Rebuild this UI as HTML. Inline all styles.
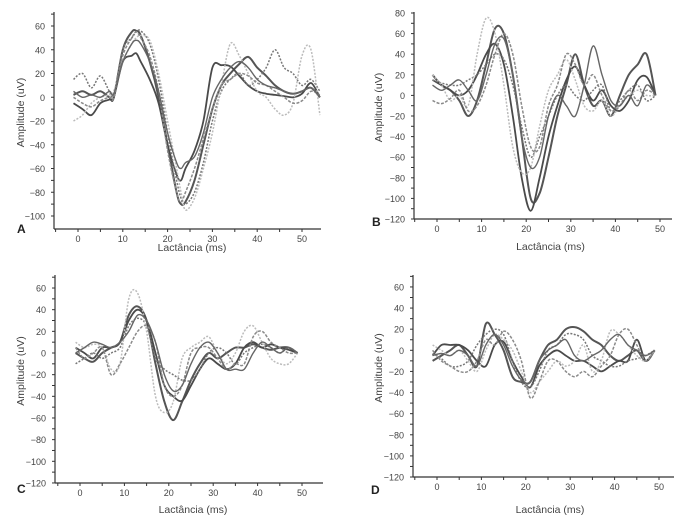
<!DOCTYPE html>
<html><head><meta charset="utf-8"><style>
html,body{margin:0;padding:0;background:#fff;}
svg{display:block;font-family:"Liberation Sans",sans-serif;}
</style></head><body>
<svg id="fig" width="700" height="519" viewBox="0 0 700 519"></svg>
<script>
// ---- data ----
const tA = [-1,1,3,5,7,8,10,12,13,14,16,18,20,22,23,24,26,28,30,32,34,36,38,40,42,44,46,48,50,52,54];
const tBCD = [-1,1,3,5,7,9,11,13,15,17,19,21,23,25,27,29,31,33,35,37,39,41,43,45,47,49];
const seriesA = [
 [2,5,2,5,0,0,40,55,56,52,30,0,-40,-80,-90,-88,-70,-40,-10,10,20,28,34,25,18,10,5,3,5,8,0],
 [-5,-10,-15,-5,-2,0,30,35,37,30,15,-5,-40,-65,-70,-60,-45,-20,25,27,26,18,10,5,3,2,1,0,3,12,0],
 [15,20,8,18,5,2,40,50,55,56,45,15,-30,-70,-85,-90,-80,-55,-20,5,15,20,10,15,25,40,25,20,10,15,5],
 [-20,-15,-5,0,2,5,30,45,50,52,48,20,-20,-60,-80,-95,-85,-60,-30,10,45,35,20,5,0,-10,-15,-5,35,40,-15],
 [0,-5,-8,-3,0,0,35,50,55,50,35,5,-45,-80,-88,-80,-60,-35,-10,10,15,20,18,12,10,5,0,-5,-3,5,2],
 [5,0,2,0,5,3,30,45,48,45,30,5,-30,-55,-60,-55,-50,-30,0,15,25,30,25,15,10,8,5,3,5,8,0]
];
const seriesB = [
 [20,10,5,-5,-20,-5,30,65,60,20,-40,-100,-95,-60,-20,10,40,10,-10,-5,-20,0,20,30,40,0],
 [15,10,5,0,5,20,40,50,30,-20,-80,-112,-80,-40,-10,15,28,10,-5,5,-10,-15,-5,15,18,0],
 [15,12,10,10,15,20,30,40,35,10,-30,-60,-40,-20,0,10,0,-5,5,10,-15,-5,5,10,-5,0],
 [20,10,-5,0,-10,40,75,60,10,-50,-75,-70,-30,5,20,35,15,-10,-15,-5,-20,-10,0,5,0,0],
 [-5,-8,-3,5,-15,-10,10,40,60,40,-10,-50,-50,-10,10,40,30,10,20,0,-15,-10,5,-5,5,0],
 [10,5,10,15,5,-5,20,50,55,20,-40,-70,-60,-20,0,-10,-20,10,48,20,-5,-10,0,-10,10,0]
];
const seriesC = [
 [0,-5,-8,0,5,10,35,43,30,-10,-45,-62,-45,-25,-10,0,-5,0,5,5,8,5,3,5,5,0],
 [5,0,-5,5,5,10,30,40,30,0,-30,-40,-44,-30,-15,-5,-10,-15,-10,5,10,5,8,5,3,0],
 [-10,-5,0,-5,0,5,25,32,25,-5,-15,-20,-25,-25,-15,0,5,0,-10,0,5,8,5,0,5,0],
 [10,5,8,5,-15,-10,50,55,20,-40,-55,-45,-5,5,10,15,0,-10,0,20,25,10,-5,-10,-10,0],
 [5,-5,0,5,-20,-10,5,20,25,10,-30,-40,-30,0,5,5,-5,-15,-10,-10,15,20,10,5,0,0],
 [0,5,10,8,5,10,20,35,30,10,-20,-35,-30,-10,5,10,0,-15,-15,-15,0,10,5,0,5,0]
];
const seriesD = [
 [-10,-5,0,5,-5,-15,25,15,0,-25,-30,-30,-10,5,10,20,22,18,10,5,-5,-10,-5,0,-10,0],
 [-5,5,5,5,0,-10,-15,5,8,-10,-25,-35,-15,-5,0,-5,-10,-10,-15,-20,-15,-10,-10,10,-10,0],
 [-3,-8,-15,-15,-10,5,15,20,15,-10,-30,-35,-20,0,5,15,15,10,-5,-10,-15,-15,-10,-8,-5,0],
 [5,0,-5,0,-10,-20,0,15,10,0,-20,-40,-30,-20,-10,-15,-10,5,-20,-10,18,15,5,-5,-10,0],
 [0,-10,-15,-20,-20,-10,10,5,18,10,-10,-45,-30,-10,-10,-20,-25,-20,-25,-15,-5,15,20,5,-10,0],
 [-5,-3,-5,0,-5,-15,5,15,5,-15,-28,-30,-10,0,5,10,-5,-10,-5,0,10,15,5,0,-5,0]
];
const xTicks = [0,10,20,30,40,50];
const yTicksA = [60,40,20,0,-20,-40,-60,-80,-100];
const yTicksB = [80,60,40,20,0,-20,-40,-60,-80,-100,-120];
const yTicksCD = [60,40,20,0,-20,-40,-60,-80,-100,-120];

// ---- layout ----
const styles = [
 {c:'#555',w:2,d:''},{c:'#4a4a4a',w:1.8,d:''},{c:'#777',w:1.5,d:'2 1.5'},
 {c:'#bbb',w:1.5,d:'2 1.5'},{c:'#8a8a8a',w:1.5,d:'3 1.5'},{c:'#666',w:1.4,d:''}
];
const panels = [
 {id:'a',letter:'A',t:tA,s:seriesA,yt:yTicksA,ax:54,ay0:97.25,k:1.1875,yTop:12,yBot:229,x0:78,kx:4.48,xEnd:321,lx:17,ly:233,ytx:24,xtY:246},
 {id:'b',letter:'B',t:tBCD,s:seriesB,yt:yTicksB,ax:414,ay0:95.4,k:1.03,yTop:12,yBot:219,x0:437,kx:4.46,xEnd:672,lx:372,ly:226,ytx:382,xtY:245},
 {id:'c',letter:'C',t:tBCD,s:seriesC,yt:yTicksCD,ax:55,ay0:353,k:1.083,yTop:275,yBot:483,x0:80,kx:4.44,xEnd:323,lx:17,ly:493,ytx:24,xtY:508},
 {id:'d',letter:'D',t:tBCD,s:seriesD,yt:yTicksCD,ax:413,ay0:350.3,k:1.056,yTop:275,yBot:477,x0:437,kx:4.44,xEnd:674,lx:371,ly:494,ytx:382,xtY:508}
];
const NS='http://www.w3.org/2000/svg';
const svg=document.getElementById('fig');
function mk(tag,attrs,parent){const e=document.createElementNS(NS,tag);for(const k in attrs)e.setAttribute(k,attrs[k]);parent.appendChild(e);return e;}
function smooth(pts){
 let d='M'+pts[0][0].toFixed(1)+' '+pts[0][1].toFixed(1);
 for(let i=0;i<pts.length-1;i++){
  const p0=pts[Math.max(0,i-1)],p1=pts[i],p2=pts[i+1],p3=pts[Math.min(pts.length-1,i+2)];
  const c1x=p1[0]+(p2[0]-p0[0])/6,c1y=p1[1]+(p2[1]-p0[1])/6;
  const c2x=p2[0]-(p3[0]-p1[0])/6,c2y=p2[1]-(p3[1]-p1[1])/6;
  d+=' C'+c1x.toFixed(1)+' '+c1y.toFixed(1)+' '+c2x.toFixed(1)+' '+c2y.toFixed(1)+' '+p2[0].toFixed(1)+' '+p2[1].toFixed(1);
 }
 return d;
}

panels.forEach(p=>{
 const g=mk('g',{},svg);
 
 
 const X=v=>p.x0+v*p.kx, Y=v=>p.ay0-v*p.k;
 const ya=mk('line',{x1:p.ax,y1:p.yTop,x2:p.ax,y2:p.yBot,stroke:'#333','stroke-width':1.2},g);
 
 
 const xa=mk('line',{x1:p.ax,y1:p.yBot,x2:p.xEnd,y2:p.yBot,stroke:'#333','stroke-width':1.2},g);
 
 
 const step=p.yt[0]-p.yt[1];
 for(let v=p.yt[p.yt.length-1];Y(v)>=p.yTop;v+=step/2){
   mk('line',{x1:p.ax-3,y1:Y(v),x2:p.ax,y2:Y(v),stroke:'#333','stroke-width':1},g);
 }
 p.yt.forEach(v=>{
   const t=mk('text',{x:p.ax-9,y:Y(v)+3.5,'font-size':9,'text-anchor':'end',fill:'#444'},g);
   t.textContent=v<0?'\u2212'+(-v):String(v);
   
   
 });
 for(let v=-5;X(v)<=p.xEnd;v+=5){
   if(X(v)<p.ax)continue;
   mk('line',{x1:X(v),y1:p.yBot,x2:X(v),y2:p.yBot+3,stroke:'#333','stroke-width':1},g);
 }
 xTicks.forEach(v=>{
   const t=mk('text',{x:X(v),y:p.yBot+13,'font-size':9,'text-anchor':'middle',fill:'#444'},g);
   t.textContent=String(v);
   
   
 });
 const xt=mk('text',{x:(X(0)+X(50))/2+2,y:p.xtY+5,'font-size':10.5,'text-anchor':'middle',fill:'#444'},g);
 xt.textContent='Lactância (ms)';
 
 
 const yc=(p.yTop+p.yBot)/2-8;
 const yt=mk('text',{x:p.ytx,y:yc,'font-size':10.5,'text-anchor':'middle',fill:'#444',transform:`rotate(-90 ${p.ytx} ${yc})`},g);
 yt.textContent='Amplitude (uV)';
 
 
 const lt=mk('text',{x:p.lx,y:p.ly,'font-size':12,'font-weight':'bold',fill:'#222'},g);
 lt.textContent=p.letter;
 
 
 p.s.forEach((vals,i)=>{
   const st=styles[i%styles.length];
   const pts=vals.map((v,j)=>[X(p.t[j]),Y(v)]);
   const path=mk('path',{d:smooth(pts),fill:'none',stroke:st.c,'stroke-width':st.w,'stroke-dasharray':st.d,'stroke-linejoin':'round'},g);
   
   
 });
});
</script>
</body></html>
